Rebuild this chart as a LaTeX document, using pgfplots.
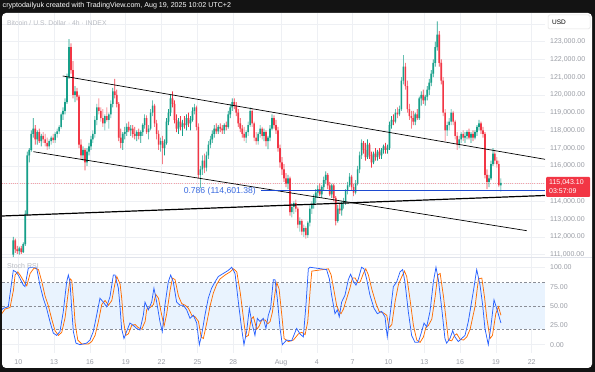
\documentclass[border=0pt]{standalone}
\usepackage{pgfplots}
\pgfplotsset{compat=1.18}
\usepackage{pgfplotstable}
\usepackage{fontspec}
\setmainfont{Liberation Sans}
\definecolor{framec}{HTML}{131313}
\definecolor{upc}{HTML}{169F89}
\definecolor{dnc}{HTML}{F23645}
\definecolor{Kc}{HTML}{2962FF}
\definecolor{Dc}{HTML}{FF6D00}
\definecolor{bandc}{HTML}{E9F3FE}
\definecolor{gridc}{HTML}{EEF0F4}
\definecolor{lblc}{HTML}{9A9DA5}
\definecolor{titlec}{HTML}{B8BBC2}
\definecolor{dashc}{HTML}{8A8D96}
\definecolor{sepc}{HTML}{E0E3EB}
\definecolor{pricelinec}{HTML}{F5A0A8}
\definecolor{fibc}{HTML}{1E4BD2}
\definecolor{fibtextc}{HTML}{3A6BE0}
\newcommand\lblfont{\fontsize{7}{8}\selectfont}
\pgfplotsset{
  mainpane/.style={at={(2pt,115pt)}, anchor=south west, scale only axis,
    width=543pt, height=244pt, xmin=8.635, xmax=54.11, ymin=110870, ymax=124617},
  overlaypane/.style={mainpane, hide axis},
}
\pgfplotstableread{
i o h l c
0 111000 112000 110850 111800
1 111800 111900 111100 111300
2 111300 111500 111050 111200
3 111200 111450 111000 111350
4 111350 111500 111050 111150
5 111150 111700 111100 111600
6 111600 113500 111500 113300
7 113300 116800 113200 116600
8 116600 117000 116200 116900
9 116900 118000 116800 117800
10 117800 118700 117600 118100
11 118100 118300 117200 117500
12 117500 118000 117200 117900
13 117900 118100 117300 117400
14 117400 117800 117100 117700
15 117700 117900 117300 117500
16 117500 117800 117100 117300
17 117300 117600 116900 117100
18 117100 117500 116950 117400
19 117400 117700 117200 117600
20 117600 117800 117300 117450
21 117450 117900 117300 117800
22 117800 118100 117600 117950
23 117950 118300 117800 118200
24 118200 119000 118100 118900
25 118900 119300 118600 119100
26 119100 119800 118900 119600
27 119600 121200 119500 121000
28 121000 123150 120900 122700
29 122700 122900 121200 121400
30 121400 121900 119800 120000
31 120000 120500 119600 120200
32 120200 120400 119700 119900
33 119900 120000 117000 117200
34 117200 117500 116400 116600
35 116600 117100 116300 116900
36 116900 117000 115750 116200
37 116200 117000 116000 116800
38 116800 117300 116600 117100
39 117100 117700 116900 117500
40 117500 118000 117300 117800
41 117800 118800 117600 118600
42 118600 119500 118300 119300
43 119300 119800 118900 119100
44 119100 119300 118500 118700
45 118700 119200 118200 118400
46 118400 118900 118000 118800
47 118800 119300 118500 118600
48 118600 119000 118100 118900
49 118900 119700 118700 119500
50 119500 120400 119300 120200
51 120200 120900 119800 120000
52 120000 120300 119300 119500
53 119500 119600 117400 117600
54 117600 118100 117000 117300
55 117300 117900 116900 117800
56 117800 118200 117500 117900
57 117900 118400 117700 118200
58 118200 118500 117900 118000
59 118000 118300 117700 118100
60 118100 118300 117600 117800
61 117800 118200 117500 117700
62 117700 118000 117400 117900
63 117900 118100 117500 117700
64 117700 118000 117300 117900
65 117900 118400 117700 118300
66 118300 118900 118100 118700
67 118700 118850 117800 117900
68 117900 118300 117500 118100
69 118100 119200 118000 119000
70 119000 119700 118800 119400
71 119400 119500 118200 118400
72 118400 118600 117500 117800
73 117800 118000 116900 117200
74 117200 117600 116800 117400
75 117400 117700 116100 117000
76 117000 117500 116600 117300
77 117300 118700 117200 118500
78 118500 119200 118300 119000
79 119000 120000 118800 119800
80 119800 120200 119300 119500
81 119500 119700 118400 118600
82 118600 118900 117900 118100
83 118100 118700 117800 118500
84 118500 118800 118000 118200
85 118200 118600 117700 118400
86 118400 118800 118100 118300
87 118300 118900 118000 118700
88 118700 119000 118200 118400
89 118400 118800 118000 118600
90 118600 119300 118500 119100
91 119100 119500 118900 119300
92 119300 119400 118000 118200
93 118200 118400 115300 115500
94 115500 116000 114750 115800
95 115800 116600 115500 116300
96 116300 116700 115600 115900
97 115900 116800 115700 116600
98 116600 117400 116400 117200
99 117200 117700 117000 117500
100 117500 118000 117300 117800
101 117800 118300 117600 118100
102 118100 118400 117800 117950
103 117950 118300 117800 118200
104 118200 118400 117900 118100
105 118100 118300 117800 118000
106 118000 118400 117800 118300
107 118300 118500 118000 118200
108 118200 119100 118100 118900
109 118900 119500 118700 119300
110 119300 119800 119100 119600
111 119600 119800 119200 119400
112 119400 119600 118800 119000
113 119000 119200 118200 118400
114 118400 118700 117900 118100
115 118100 118300 117600 117800
116 117800 118200 117400 117600
117 117600 118000 117300 117900
118 117900 118500 117700 118300
119 118300 119300 118200 119100
120 119100 119200 118200 118400
121 118400 118500 117400 117600
122 117600 117900 117200 117400
123 117400 117900 117200 117800
124 117800 118300 117600 118100
125 118100 118200 117500 117700
126 117700 118100 117400 117900
127 117900 118000 117100 117400
128 117400 117700 116950 117600
129 117600 118300 117400 118100
130 118100 118900 118000 118700
131 118700 118850 118100 118300
132 118300 118600 117800 118000
133 118000 118200 116800 117000
134 117000 117200 115900 116200
135 116200 116500 115500 115800
136 115800 116100 115100 115300
137 115300 115600 114800 115000
138 115000 115500 114700 115300
139 115300 115400 113200 113400
140 113400 113900 113100 113700
141 113700 114000 113300 113900
142 113900 114100 113400 113600
143 113600 113700 112500 112700
144 112700 113100 112300 112900
145 112900 113000 112100 112300
146 112300 112700 112000 112500
147 112500 112600 111900 112100
148 112100 112900 111950 112800
149 112800 113800 112600 113600
150 113600 114000 113300 113800
151 113800 114400 113600 114200
152 114200 114700 113900 114500
153 114500 114900 114200 114700
154 114700 115000 114300 114400
155 114400 114900 114200 114800
156 114800 115400 114600 115200
157 115200 115700 115000 115500
158 115500 115600 114700 114900
159 114900 115100 114300 114400
160 114400 115000 114200 114900
161 114900 115000 114000 114200
162 114200 114300 112650 112900
163 112900 113800 112800 113600
164 113600 113900 113300 113500
165 113500 114000 113200 113900
166 113900 114200 113600 114000
167 114000 114700 113800 114600
168 114600 115100 114400 114900
169 114900 115600 114800 115400
170 115400 115500 114600 114800
171 114800 115000 114300 114500
172 114500 115200 114400 115000
173 115000 116000 114900 115800
174 115800 116800 115600 116600
175 116600 117500 116400 117300
176 117300 117400 116700 116900
177 116900 117300 116300 116500
178 116500 117500 116400 117200
179 117200 117300 116400 116600
180 116600 116800 115900 116200
181 116200 116800 116100 116700
182 116700 117000 116300 116500
183 116500 116900 116300 116800
184 116800 117000 116400 116600
185 116600 117000 116400 116900
186 116900 117200 116700 117100
187 117100 117300 116700 116900
188 116900 117200 116700 117000
189 117000 118500 116900 118300
190 118300 118800 118100 118600
191 118600 118900 118300 118500
192 118500 119200 118400 119000
193 119000 119300 118700 118900
194 118900 119400 118800 119200
195 119200 121000 119100 120800
196 120800 122250 120600 121600
197 121600 121800 120300 120500
198 120500 120800 119000 119200
199 119200 119500 118600 118800
200 118800 119100 118100 118700
201 118700 119100 118300 118500
202 118500 119000 118300 118900
203 118900 119200 118600 118700
204 118700 119900 118600 119800
205 119800 120200 119400 120000
206 120000 120300 119500 119700
207 119700 120000 119400 119900
208 119900 120500 119700 120300
209 120300 120900 120000 120700
210 120700 121400 120500 121200
211 121200 122000 121000 121800
212 121800 123000 121600 122700
213 122700 124150 122500 123400
214 123400 123600 121600 121800
215 121800 122000 120600 120800
216 120800 121000 118800 119000
217 119000 119200 117400 118000
218 118000 118500 117700 118300
219 118300 118700 118000 118500
220 118500 119200 118300 119000
221 119000 119100 118300 118500
222 118500 118600 117500 117700
223 117700 117900 116900 117200
224 117200 117700 117000 117500
225 117500 117900 117300 117800
226 117800 118000 117400 117600
227 117600 117900 117300 117700
228 117700 118000 117500 117900
229 117900 118100 117500 117600
230 117600 117900 117300 117800
231 117800 118000 117400 117600
232 117600 118000 117500 117900
233 117900 118300 117700 118200
234 118200 118600 118000 118400
235 118400 118500 117800 118000
236 118000 118200 117600 117800
237 117800 117900 115300 115500
238 115500 115800 114700 115100
239 115100 115500 114800 115300
240 115300 116300 115200 116100
241 116100 117000 116000 116700
242 116700 116900 116100 116300
243 116300 116500 115900 116100
244 116100 116300 114800 114900
245 114900 115300 114550 115043.1
}\candles
\begin{document}
\begin{tikzpicture}[x=1pt,y=1pt]
\useasboundingbox (0,0) rectangle (595,372);
\fill[framec] (0,0) rectangle (595,372);
\fill[white, rounded corners=4pt] (2,4) rectangle (592,359);
\node[anchor=west, text=white, font=\fontsize{7.1}{8}\selectfont, inner sep=0pt] at (2.5,366) {cryptodailyuk created with TradingView.com, Aug 19, 2025 10:02 UTC+2};
% base pane: grid, price scale, price line
\begin{axis}[
  mainpane,
  axis line style={draw=none}, major tick style={draw=none},
  xtick={10,13,16,19,22,25,28,32,35,38,41,44,47,50,53}, xticklabels={},
  ytick={111000,112000,113000,114000,115000,116000,117000,118000,119000,120000,121000,122000,123000},
  extra y ticks={124000}, extra y tick labels={},
  extra y tick style={grid=major, major grid style={draw=gridc, line width=0.6pt}},
  yticklabel pos=right, scaled y ticks=false,
  yticklabel style={font=\lblfont, text=lblc, anchor=west, inner sep=0pt, xshift=5pt,
    /pgf/number format/.cd, fixed, fixed zerofill, precision=2, 1000 sep={,}, assume math mode=true},
  grid=major, major grid style={draw=gridc, line width=0.6pt},
]
\addplot[pricelinec, dash pattern=on 1pt off 1.2pt, line width=0.6pt] coordinates {(8.635,115043.1) (54.11,115043.1)};
\end{axis}
% wicks (stacked bars: invisible base up to the low, then high-low in the candle colour)
\begin{axis}[overlaypane, ybar stacked, bar width=0.65pt]
\addplot[draw=none, fill=none] table[x expr=9.583+\thisrow{i}/6, y=l] {\candles};
\addplot[draw=none, fill=upc] table[x expr=9.583+\thisrow{i}/6, y expr={(\thisrow{c}>=\thisrow{o})*(\thisrow{h}-\thisrow{l})}] {\candles};
\addplot[draw=none, fill=dnc] table[x expr=9.583+\thisrow{i}/6, y expr={(\thisrow{c}<\thisrow{o})*(\thisrow{h}-\thisrow{l})}] {\candles};
\end{axis}
% bodies
\begin{axis}[overlaypane, ybar stacked, bar width=1.65pt]
\addplot[draw=none, fill=none] table[x expr=9.583+\thisrow{i}/6, y expr={min(\thisrow{o},\thisrow{c})}] {\candles};
\addplot[draw=none, fill=upc] table[x expr=9.583+\thisrow{i}/6, y expr={max(\thisrow{c}-\thisrow{o},0)}] {\candles};
\addplot[draw=none, fill=dnc] table[x expr=9.583+\thisrow{i}/6, y expr={max(\thisrow{o}-\thisrow{c},0)}] {\candles};
\end{axis}
% drawings
\begin{axis}[overlaypane]
\addplot[black, line width=0.7pt] coordinates {(13.72,121068) (54.11,116374)};
\addplot[black, line width=0.7pt] coordinates {(11.26,116803) (52.58,112352)};
\addplot[black, line width=1.2pt] coordinates {(8.635,113180) (54.11,114335)};
\addplot[fibc, line width=1.3pt] coordinates {(30.33,114601.38) (54.11,114601.38)};
\end{axis}
\fill[white] (2,19) rectangle (592,115);
\begin{axis}[
  at={(2pt,19pt)}, anchor=south west, scale only axis,
  width=543pt, height=96pt,
  xmin=8.635, xmax=54.11, ymin=-10.72, ymax=113.24,
  axis line style={draw=none}, major tick style={draw=none},
  xtick={10,13,16,19,22,25,28,32,35,38,41,44,47,50,53},
  xticklabels={10,13,16,19,22,25,28,Aug,4,7,10,13,16,19,22},
  x tick label style={font=\lblfont, text=lblc, anchor=base, yshift=-11.5pt},
  ytick={0,25,50,75,100}, yticklabel pos=right,
  yticklabel style={font=\lblfont, text=lblc, anchor=west, inner sep=0pt, xshift=5pt,
    /pgf/number format/.cd, fixed, fixed zerofill, precision=2, assume math mode=true},
  grid=major, major grid style={draw=gridc, line width=0.6pt},
]
\addplot[draw=none, fill=bandc] coordinates {(8.635,20) (54.11,20) (54.11,80) (8.635,80)} -- cycle;
\addplot[dashc, dash pattern=on 2.5pt off 2pt, line width=0.6pt] coordinates {(8.635,80) (54.11,80)};
\addplot[dashc, dash pattern=on 2.5pt off 2pt, line width=0.6pt] coordinates {(8.635,50) (54.11,50)};
\addplot[dashc, dash pattern=on 2.5pt off 2pt, line width=0.6pt] coordinates {(8.635,20) (54.11,20)};
\addplot[Dc, line width=0.75pt] coordinates {(8.61,40)(8.89,46)(9.31,48)(9.59,70)(9.73,90)(9.95,94)(10.15,90)(10.57,79)(10.71,76)(10.99,92)(11.32,99)(11.69,97)(11.96,82)(12.24,63)(12.52,50)(12.80,33)(13.08,18)(13.36,12)(13.64,16)(13.92,35)(14.20,70)(14.34,85)(14.48,83)(14.62,58)(14.76,28)(14.98,6)(15.31,1)(15.87,1)(16.15,4)(16.43,12)(16.71,30)(16.99,52)(17.27,57)(17.55,51)(17.83,57)(18.11,80)(18.25,88)(18.53,78)(18.66,60)(18.80,32)(19.00,12)(19.22,14)(19.50,25)(19.78,26)(20.06,22)(20.34,20)(20.62,30)(20.76,46)(21.04,48)(21.32,52)(21.51,65)(21.74,60)(22.01,38)(22.21,24)(22.43,40)(22.71,70)(22.91,86)(23.13,84)(23.41,63)(23.69,53)(23.97,51)(24.25,47)(24.53,38)(24.81,36)(25.09,30)(25.31,10)(25.50,8)(25.78,28)(26.06,50)(26.34,67)(26.62,78)(26.90,85)(27.32,90)(27.74,94)(28.02,98)(28.30,94)(28.58,68)(28.85,35)(29.05,10)(29.27,12)(29.50,33)(29.69,36)(29.97,20)(30.17,24)(30.39,32)(30.67,32)(30.89,27)(31.09,30)(31.28,42)(31.51,68)(31.65,80)(31.84,72)(32.07,38)(32.26,8)(32.62,4)(33.04,6)(33.46,14)(33.74,16)(34.02,13)(34.24,30)(34.44,70)(34.58,95)(35.97,98)(36.20,90)(36.39,74)(36.67,50)(36.87,43)(37.03,40)(37.23,46)(37.51,60)(37.79,74)(37.98,86)(38.21,86)(38.43,80)(38.63,81)(38.90,92)(39.10,98)(39.32,90)(39.60,72)(39.94,54)(40.22,43)(40.58,41)(40.86,38)(41.05,22)(41.28,26)(41.56,56)(41.84,78)(42.12,88)(42.34,95)(42.53,88)(42.81,58)(43.09,25)(43.37,6)(43.65,3)(43.93,10)(44.13,22)(44.35,25)(44.63,33)(44.91,62)(45.13,90)(45.33,92)(45.61,62)(45.88,25)(46.02,6)(46.30,5)(46.53,12)(46.72,14)(47.00,7)(47.28,6)(47.56,10)(47.84,20)(48.26,50)(48.54,85)(48.82,86)(49.04,62)(49.23,35)(49.51,8)(49.71,12)(49.99,40)(50.21,49)(50.42,38)};
\addplot[Kc, line width=0.75pt] coordinates {(8.46,43)(8.74,47)(9.16,49)(9.44,80)(9.58,96)(9.80,94)(10.00,90)(10.42,77)(10.56,75)(10.84,99)(11.17,100)(11.54,99)(11.81,77)(12.09,60)(12.37,47)(12.65,30)(12.93,15)(13.21,12)(13.49,17)(13.77,43)(14.05,81)(14.19,90)(14.33,81)(14.47,47)(14.61,17)(14.83,2)(15.16,0)(15.72,2)(16.00,6)(16.28,17)(16.56,38)(16.84,60)(17.12,55)(17.40,49)(17.68,62)(17.96,90)(18.10,90)(18.38,73)(18.51,51)(18.65,21)(18.85,8)(19.07,17)(19.35,28)(19.63,25)(19.91,21)(20.19,19)(20.47,38)(20.61,55)(20.89,45)(21.17,55)(21.36,73)(21.59,55)(21.86,30)(22.06,17)(22.28,51)(22.56,81)(22.76,90)(22.98,81)(23.26,55)(23.54,51)(23.82,51)(24.10,45)(24.38,34)(24.66,38)(24.94,28)(25.16,0)(25.35,12)(25.63,38)(25.91,60)(26.19,73)(26.47,81)(26.75,88)(27.17,92)(27.59,96)(27.87,100)(28.15,92)(28.43,55)(28.70,21)(28.90,0)(29.12,17)(29.35,47)(29.54,30)(29.82,12)(30.02,34)(30.24,30)(30.52,34)(30.74,21)(30.94,38)(31.13,47)(31.36,84)(31.50,84)(31.69,60)(31.92,21)(32.11,0)(32.47,6)(32.89,5)(33.31,21)(33.59,14)(33.87,10)(34.09,51)(34.29,98)(34.43,100)(35.82,97)(36.05,85)(36.24,64)(36.52,40)(36.72,45)(36.88,36)(37.08,55)(37.36,64)(37.64,84)(37.83,91)(38.06,82)(38.28,77)(38.48,85)(38.75,100)(38.95,98)(39.17,85)(39.45,64)(39.79,47)(40.07,40)(40.43,43)(40.71,36)(40.90,10)(41.13,38)(41.41,75)(41.69,81)(41.97,94)(42.19,97)(42.38,81)(42.66,43)(42.94,12)(43.22,3)(43.50,3)(43.78,17)(43.98,28)(44.20,23)(44.48,43)(44.76,81)(44.98,100)(45.18,84)(45.46,47)(45.73,8)(45.87,2)(46.15,8)(46.38,18)(46.57,10)(46.85,4)(47.13,8)(47.41,12)(47.69,30)(48.11,69)(48.39,97)(48.67,77)(48.89,51)(49.08,21)(49.36,0)(49.56,21)(49.84,58)(50.10,45)(50.42,28)};
\end{axis}
\draw[sepc, line width=0.6pt] (2,115) -- (592,115);
\node[anchor=west, text=titlec, font=\fontsize{6.8}{7}\selectfont, inner sep=0pt] at (7,349) {Bitcoin / U.S. Dollar · 4h · INDEX};
\node[anchor=west, text=titlec, font=\fontsize{7}{8}\selectfont, inner sep=0pt] at (7,106) {Stoch RSI};
\node[anchor=east, text=fibtextc, font=\fontsize{8.6}{9}\selectfont, inner sep=0pt] at (256,181) {0.786 (114,601.38)};
\filldraw[fill=white, draw=black!12, line width=0.5pt, rounded corners=1.5pt] (548,343) rectangle (590,357);
\node[anchor=west, font=\fontsize{6.5}{7}\selectfont, inner sep=0pt] at (552,350) {USD};
\fill[dnc, rounded corners=1pt] (546,175) rectangle (590,195);
\node[anchor=west, text=white, font=\lblfont, inner sep=0pt] at (549,189) {115,043.10};
\node[anchor=west, text=white, font=\lblfont, inner sep=0pt] at (549,180.5) {03:57:09};
\end{tikzpicture}
\end{document}
